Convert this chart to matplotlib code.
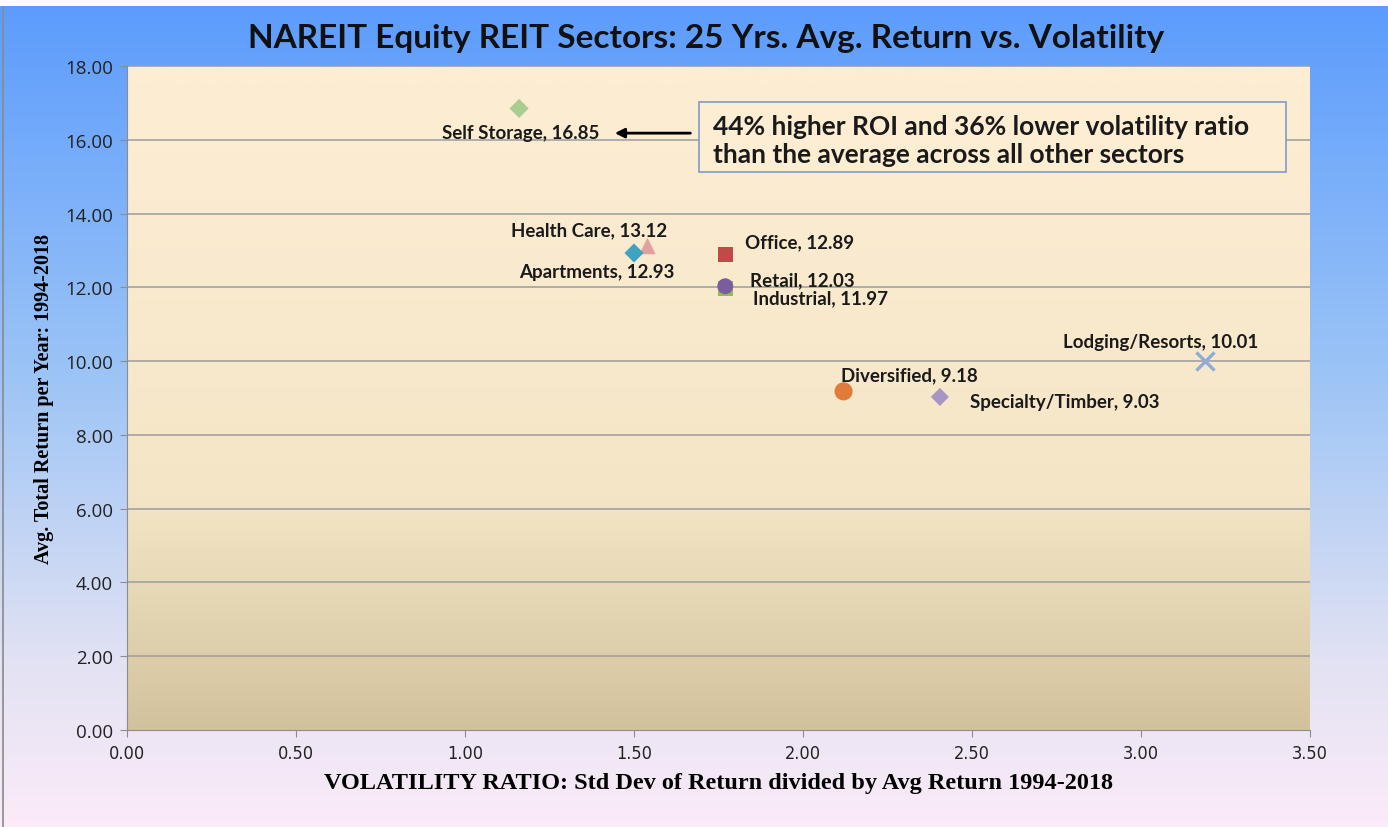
import numpy as np
import matplotlib
matplotlib.use("Agg")
import matplotlib.pyplot as plt
from matplotlib.colors import LinearSegmentedColormap
from matplotlib.patches import Rectangle

# data
sectors = ["Self Storage", "Health Care", "Apartments", "Office", "Industrial",
           "Retail", "Diversified", "Specialty/Timber", "Lodging/Resorts"]
volatility = [1.16, 1.54, 1.50, 1.77, 1.77, 1.77, 2.12, 2.405, 3.19]
avg_return = [16.85, 13.12, 12.93, 12.89, 11.97, 12.03, 9.18, 9.03, 10.01]

markers = ["D", "^", "D", "s", "s", "o", "o", "D", "x"]
colors = ["#A9CD8E", "#E2A0A0", "#3FA3C0", "#BE4B48", "#93B95A",
          "#7A5C9F", "#E07B39", "#A995C4", "#8EACD8"]
sizes = [95, 140, 95, 110, 110, 130, 170, 85, 170]
# label offsets in points (dx, dy, ha)
label_pos = [(58, -17, "right"), (-42, 11.5, "center"), (-27, -13, "center"),
             (14, 9, "left"), (20, -6.5, "left"), (18, 5, "left"),
             (-1.5, 12, "left"), (22, -3.5, "left"), (-32, 13.7, "center")]

x_ticks = np.arange(0, 3.51, 0.5)
y_ticks = np.arange(0, 18.01, 2)

fig = plt.figure(figsize=(13.88, 8.28), dpi=100)

# figure background gradient (blue top -> pale pink bottom)
bg = fig.add_axes([0, 0, 1, 0.992], zorder=-2)
bg_cmap = LinearSegmentedColormap.from_list(
    "bg", [(0.0, "#5C9CFD"), (0.45, "#9CC4F6"), (0.8, "#E2E2F3"), (1.0, "#FCEBF8")])
bg.imshow(np.linspace(0, 1, 256).reshape(-1, 1), aspect="auto", cmap=bg_cmap,
          extent=[0, 1, 0, 1])
bg.set_xlim(0, 1)
bg.set_ylim(0, 1)
bg.axis("off")
bg.plot([0.002, 0.002], [0, 1], color="#8A8A8A", lw=1.2)

ax = fig.add_axes([0.0915, 0.1171, 0.8523, 0.802])

# plot area gradient (cream top -> tan bottom)
pa_cmap = LinearSegmentedColormap.from_list(
    "pa", [(0.0, "#FCEDD3"), (0.5, "#F4E5C6"), (1.0, "#D2C29C")])
ax.imshow(np.linspace(0, 1, 256).reshape(-1, 1) ** 1.6, aspect="auto", cmap=pa_cmap,
          extent=[0, 3.5, 0, 18], origin="upper", zorder=0)
ax.set_xlim(0, 3.5)
ax.set_ylim(0, 18)

for y in y_ticks[1:]:
    ax.axhline(y, color="#9C9C9C", lw=1.1, zorder=1)

for i, name in enumerate(sectors):
    if markers[i] == "x":
        ax.scatter(volatility[i], avg_return[i], marker="x", s=sizes[i],
                   color=colors[i], linewidths=2.4, zorder=3 + i * 0.01)
    else:
        ax.scatter(volatility[i], avg_return[i], marker=markers[i], s=sizes[i],
                   color=colors[i], edgecolors="none", zorder=3 + i * 0.01)
    dx, dy, ha = label_pos[i]
    ax.annotate(f"{name}, {avg_return[i]:.2f}", (volatility[i], avg_return[i]),
                xytext=(dx, dy), textcoords="offset points", ha=ha, va="center",
                fontsize=13.5, fontweight="bold", family=["Lato", "DejaVu Sans"],
                color="#1A1A1A", zorder=4)

# call-out box and arrow
ax.annotate("", xy=(1.435, 16.18), xytext=(1.675, 16.18),
            arrowprops=dict(arrowstyle="-|>", color="black", lw=2,
                            mutation_scale=14), zorder=4)
ax.add_patch(Rectangle((1.692, 15.13), 1.737, 1.89, fc="#FCEDD3", ec="#7F9CC4",
                       lw=1.2, zorder=4))
ax.text(1.734, 16.0, "44% higher ROI and 36% lower volatility ratio\n"
        "than the average across all other sectors",
        fontsize=19, fontweight="bold", family=["Lato", "DejaVu Sans"],
        va="center", ha="left", linespacing=1.2, color="#1A1A1A", zorder=5)

ax.set_xticks(x_ticks)
ax.set_yticks(y_ticks)
ax.set_xticklabels([f"{v:.2f}" for v in x_ticks], fontsize=13,
                   family=["DejaVu Sans"], fontstretch="condensed", color="#222222")
ax.set_yticklabels([f"{v:.2f}" for v in y_ticks], fontsize=13.5,
                   family=["Open Sans", "DejaVu Sans"], color="#222222")
ax.tick_params(axis="both", direction="out", length=5, color="#8C8C8C", pad=5)

for s in ["top", "right"]:
    ax.spines[s].set_visible(False)
for s in ["left", "bottom"]:
    ax.spines[s].set_color("#8C8C8C")

ax.set_xlabel("VOLATILITY RATIO: Std Dev of Return divided by Avg Return 1994-2018",
              fontsize=17.5, fontweight="bold", family=["Liberation Serif", "DejaVu Serif"],
              labelpad=7)
ax.set_ylabel("Avg. Total Return per Year: 1994-2018", fontsize=14.5, fontweight="bold",
              family=["Liberation Serif", "DejaVu Serif"], labelpad=8)

fig.text(0.509, 0.954, "NAREIT Equity REIT Sectors: 25 Yrs. Avg. Return vs. Volatility",
         ha="center", va="center", fontsize=24, fontweight="bold",
         family=["Lato", "DejaVu Sans"], color="#111111")

fig.savefig("out.png", dpi=100)
